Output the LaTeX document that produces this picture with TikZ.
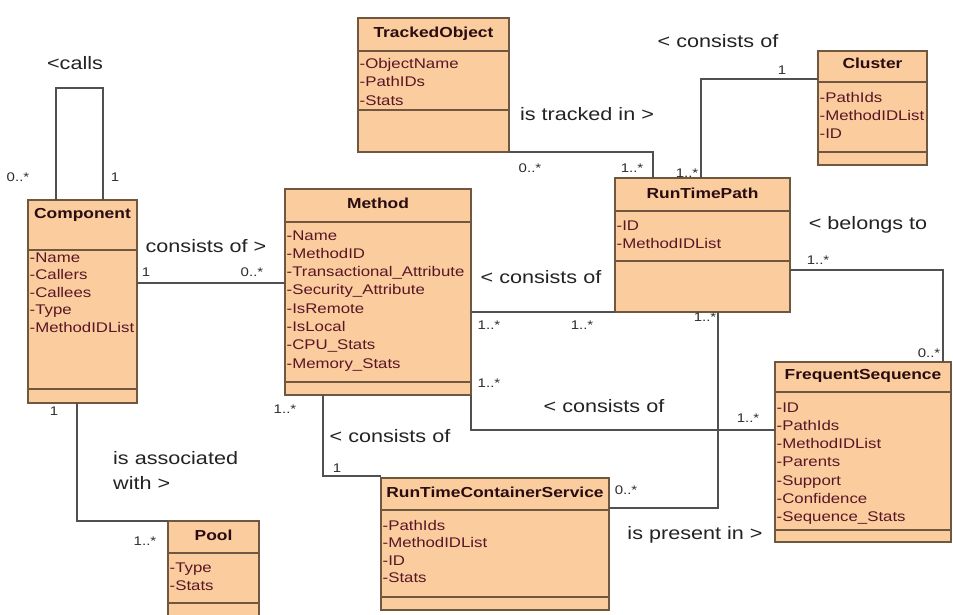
\documentclass[tikz,border=0pt]{standalone}
\usepackage{fontspec}
\setmainfont{Liberation Sans}[FakeStretch=1.2]
\usetikzlibrary{calc}

\definecolor{classfill}{RGB}{250,204,158}
\definecolor{classedge}{RGB}{112,88,64}
\definecolor{titletext}{RGB}{40,12,16}
\definecolor{attrtext}{RGB}{88,22,38}
\definecolor{linegray}{RGB}{80,80,80}
\definecolor{labeltext}{RGB}{35,35,35}
\definecolor{multtext}{RGB}{45,45,45}

\tikzset{
  classbox/.style={draw=classedge, fill=classfill, line width=1.2pt,
    inner sep=0pt, outer sep=0pt, anchor=north west},
  divider/.style={draw=classedge, line width=1.2pt},
  ctitle/.style={font=\fontsize{14.5}{16}\selectfont\bfseries, text=titletext,
    inner sep=0pt, text height=10.4pt, text depth=0pt},
  attr/.style={font=\fontsize{14}{16}\selectfont, text=attrtext, anchor=west,
    inner sep=0pt, text height=10pt, text depth=0pt},
  assoc/.style={draw=linegray, line width=1.1pt},
  rel/.style={font=\fontsize{18}{20}\selectfont, text=labeltext,
    inner sep=0pt, text height=9.4pt, text depth=0pt},
  mult/.style={font=\fontsize{12.5}{14}\selectfont, text=multtext,
    inner sep=0pt, text height=9pt, text depth=0pt},
}

\begin{document}
\begin{tikzpicture}[x=1pt, y=-1pt]
\useasboundingbox[fill=white] (0,0) rectangle (953,614);

% ---------- class boxes ----------
\node[classbox, minimum width=109pt, minimum height=203pt] (cmp)  at (28,200)  {};
\node[classbox, minimum width=186pt, minimum height=206pt] (mth)  at (285,189) {};
\node[classbox, minimum width=151pt, minimum height=134pt] (tob)  at (358,18)  {};
\node[classbox, minimum width=109pt, minimum height=114pt] (cls)  at (818,51)  {};
\node[classbox, minimum width=175pt, minimum height=134pt] (rtp)  at (615,178) {};
\node[classbox, minimum width=176pt, minimum height=180pt] (fs)   at (775,362) {};
\node[classbox, minimum width=228pt, minimum height=132pt] (rtcs) at (381,478) {};
\node[classbox, minimum width=91pt,  minimum height=100pt] (pool) at (168,521) {};

% compartment dividers
\foreach \b/\ya/\yb in {cmp/250/389, mth/222/382, tob/51/110, cls/82/152,
                        rtp/211/261, fs/392/530, rtcs/510/597, pool/553/603} {
  \draw[divider] (\b.west |- 0,\ya) -- (\b.east |- 0,\ya);
  \draw[divider] (\b.west |- 0,\yb) -- (\b.east |- 0,\yb);
}

% class names
\node[ctitle] (cmp-t)  at ($(cmp.north)+(0,13)$)  {Component};
\node[ctitle] (mth-t)  at ($(mth.north)+(0,14)$)  {Method};
\node[ctitle] (tob-t)  at ($(tob.north)+(0,14)$)  {TrackedObject};
\node[ctitle] (cls-t)  at ($(cls.north)+(0,12)$)  {Cluster};
\node[ctitle] (rtp-t)  at ($(rtp.north)+(0,15)$)  {RunTimePath};
\node[ctitle] (fs-t)   at ($(fs.north)+(0,12)$)   {FrequentSequence};
\node[ctitle] (rtcs-t) at ($(rtcs.north)+(0,14)$) {RunTimeContainerService};
\node[ctitle] (pool-t) at ($(pool.north)+(0,14)$) {Pool};

% attributes
\foreach \t [count=\i, evaluate=\i as \y using 257+17.5*(\i-1)] in
  {-Name,-Callers,-Callees,-Type,-MethodIDList}
  \node[attr] (cmp-a\i) at (29.5,\y) {\t};
\foreach \t [count=\i, evaluate=\i as \y using 235+18.3*(\i-1)] in
  {-Name,-MethodID,-Transactional\_Attribute,-Security\_Attribute,-IsRemote,-IsLocal,-CPU\_Stats,-Memory\_Stats}
  \node[attr] (mth-a\i) at (286.5,\y) {\t};
\foreach \t [count=\i, evaluate=\i as \y using 63+18.5*(\i-1)] in
  {-ObjectName,-PathIDs,-Stats}
  \node[attr] (tob-a\i) at (359.5,\y) {\t};
\foreach \t [count=\i, evaluate=\i as \y using 97+18*(\i-1)] in
  {-PathIds,-MethodIDList,-ID}
  \node[attr] (cls-a\i) at (819.5,\y) {\t};
\foreach \t [count=\i, evaluate=\i as \y using 225+18*(\i-1)] in
  {-ID,-MethodIDList}
  \node[attr] (rtp-a\i) at (616.5,\y) {\t};
\foreach \t [count=\i, evaluate=\i as \y using 407+18.3*(\i-1)] in
  {-ID,-PathIds,-MethodIDList,-Parents,-Support,-Confidence,-Sequence\_Stats}
  \node[attr] (fs-a\i) at (776.5,\y) {\t};
\foreach \t [count=\i, evaluate=\i as \y using 525+17.5*(\i-1)] in
  {-PathIds,-MethodIDList,-ID,-Stats}
  \node[attr] (rtcs-a\i) at (382.5,\y) {\t};
\foreach \t [count=\i, evaluate=\i as \y using 567+18*(\i-1)] in
  {-Type,-Stats}
  \node[attr] (pool-a\i) at (169.5,\y) {\t};

% ---------- associations ----------
% Component calls itself
\draw[assoc] (56,0 |- cmp.north) |- (103,88) -- (103,0 |- cmp.north);
\node[rel]  (l-calls) at (75,65) {<calls};
\node[mult] (m-calls1) at (18,177) {0..*};
\node[mult] (m-calls2) at (115,177) {1};

% Component -- Method
\draw[assoc] (cmp.east |- 0,283) -- (mth.west |- 0,283);
\node[rel]  (l-cm)  at (206,248) {consists of >};
\node[mult] (m-cm1) at (146,272) {1};
\node[mult] (m-cm2) at (252,272) {0..*};

% Method -- RunTimePath
\draw[assoc] (mth.east |- rtp.south) -- (rtp.south west);
\node[rel]  (l-mr)  at (541,279) {< consists of};
\node[mult] (m-mr1) at (489,325) {1..*};
\node[mult] (m-mr2) at (582,325) {1..*};

% Method -- FrequentSequence
\draw[assoc] (mth.south east) |- (fs.west |- 0,430);
\node[rel]  (l-mf)  at (604,408) {< consists of};
\node[mult] (m-mf1) at (489,383) {1..*};
\node[mult] (m-mf2) at (748,418) {1..*};

% Method -- RunTimeContainerService
\draw[assoc] (323,0 |- mth.south) |- (rtcs.west |- 0,476);
\node[rel]  (l-ms)  at (390,438) {< consists of};
\node[mult] (m-ms1) at (285,409) {1..*};
\node[mult] (m-ms2) at (337,468) {1};

% Component -- Pool
\draw[assoc] (77,0 |- cmp.south) |- (pool.north west);
\node[rel, anchor=west] (l-cp1) at (113,460) {is associated};
\node[rel, anchor=west] (l-cp2) at (113,485) {with >};
\node[mult] (m-cp1) at (54,411) {1};
\node[mult] (m-cp2) at (145,541) {1..*};

% TrackedObject -- RunTimePath
\draw[assoc] (tob.south east) -| (653,0 |- rtp.north);
\node[rel]  (l-tr)  at (587,116) {is tracked in >};
\node[mult] (m-tr1) at (530,168) {0..*};
\node[mult] (m-tr2) at (632,168) {1..*};

% Cluster -- RunTimePath
\draw[assoc] (cls.west |- 0,79) -| (701,0 |- rtp.north);
\node[rel]  (l-cr)  at (718,43) {< consists of};
\node[mult] (m-cr1) at (782,70) {1};
\node[mult] (m-cr2) at (687,173) {1..*};

% RunTimePath -- FrequentSequence
\draw[assoc] (rtp.east |- 0,270) -| (943,0 |- fs.north);
\node[rel]  (l-rf)  at (868,225) {< belongs to};
\node[mult] (m-rf1) at (818,260) {1..*};
\node[mult] (m-rf2) at (929,353) {0..*};

% RunTimeContainerService -- RunTimePath
\draw[assoc] (rtcs.east |- 0,508) -| (718,0 |- rtp.south);
\node[rel]  (l-sr)  at (695,535) {is present in >};
\node[mult] (m-sr1) at (626,490) {0..*};
\node[mult] (m-sr2) at (705,317) {1..*};
\end{tikzpicture}
\end{document}
